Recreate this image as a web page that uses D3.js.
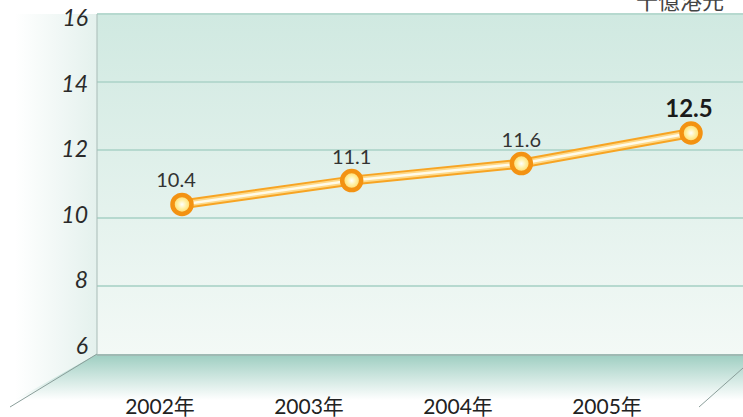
<!DOCTYPE html>
<html lang="zh-Hant">
<head>
  <meta charset="UTF-8">
  <script src="https://d3js.org/d3.v7.min.js"></script>
  <title>十億港元</title>
  <style>
    body { margin: 0; background: #fff; }
    svg { display: block; font-family: Lato, "Noto Sans CJK TC", sans-serif; }
  </style>
</head>
<body>
  <svg id="chart" width="743" height="417"></svg>
  <script>
    const years = ["2002年", "2003年", "2004年", "2005年"];
    const values = [10.4, 11.1, 11.6, 12.5];
    const yTicks = [6, 8, 10, 12, 14, 16];
    const unit = "十億港元";

    const width = 743, height = 417;
    const plotLeft = 97, plotTop = 14, plotBottom = 354;

    const svg = d3.select("#chart");
    const defs = svg.append("defs");

    const wallGrad = defs.append("linearGradient").attr("id", "wall")
      .attr("x1", 0).attr("y1", 0).attr("x2", 0).attr("y2", 1);
    wallGrad.append("stop").attr("offset", "0%").attr("stop-color", "#d0e9e1");
    wallGrad.append("stop").attr("offset", "100%").attr("stop-color", "#f3f9f6");

    const sideGrad = defs.append("linearGradient").attr("id", "side")
      .attr("x1", 0).attr("y1", 0).attr("x2", 1).attr("y2", 0);
    sideGrad.append("stop").attr("offset", "0%").attr("stop-color", "#ffffff");
    sideGrad.append("stop").attr("offset", "100%").attr("stop-color", "#e4f1ed");

    const floorGrad = defs.append("linearGradient").attr("id", "floor")
      .attr("x1", 0).attr("y1", 0).attr("x2", 0).attr("y2", 1);
    floorGrad.append("stop").attr("offset", "0%").attr("stop-color", "#9ccdc0");
    floorGrad.append("stop").attr("offset", "100%").attr("stop-color", "#ffffff");

    const dotGrad = defs.append("radialGradient").attr("id", "dot");
    dotGrad.append("stop").attr("offset", "0%").attr("stop-color", "#ffffff");
    dotGrad.append("stop").attr("offset", "45%").attr("stop-color", "#fff1a6");
    dotGrad.append("stop").attr("offset", "100%").attr("stop-color", "#ffd45c");

    const y = d3.scaleLinear().domain([6, 16]).range([plotBottom, plotTop]);
    // tick labels sit on a slightly compressed scale (perspective look)
    const yLab = d3.scaleLinear().domain([6, 16]).range([353.5, 26]);
    const x = d3.scalePoint().domain(years).range([182, 691]);
    const xLab = d3.scalePoint().domain(years).range([160, 607]);

    // side wall
    svg.append("path")
      .attr("d", `M15,${plotTop} L${plotLeft},${plotTop} L${plotLeft},${plotBottom} L15,405 Z`)
      .attr("fill", "url(#side)");

    // back wall
    svg.append("rect")
      .attr("x", plotLeft).attr("y", plotTop)
      .attr("width", width - plotLeft).attr("height", plotBottom - plotTop)
      .attr("fill", "url(#wall)");

    // floor
    svg.append("path")
      .attr("d", `M${plotLeft},${plotBottom} L${width},${plotBottom} L${width},400 L15,400 Z`)
      .attr("fill", "url(#floor)");
    svg.append("line")
      .attr("x1", plotLeft).attr("x2", width).attr("y1", plotBottom + 1).attr("y2", plotBottom + 1)
      .attr("stroke", "#9fb9b3").attr("stroke-width", 2);
    svg.append("line")
      .attr("x1", plotLeft).attr("y1", plotBottom).attr("x2", 10).attr("y2", 407)
      .attr("stroke", "#8a9e9a").attr("stroke-width", 1);
    svg.append("line")
      .attr("x1", width).attr("y1", 368).attr("x2", 699).attr("y2", 407)
      .attr("stroke", "#8a9e9a").attr("stroke-width", 1);

    // grid lines
    svg.append("g").selectAll("line")
      .data(yTicks.filter(d => d > 6))
      .join("line")
      .attr("x1", plotLeft).attr("x2", width)
      .attr("y1", d => y(d)).attr("y2", d => y(d))
      .attr("stroke", "#b6d9cf").attr("stroke-width", 2);

    svg.append("line")
      .attr("x1", plotLeft).attr("x2", plotLeft).attr("y1", plotTop).attr("y2", plotBottom)
      .attr("stroke", "#a9bbb7").attr("stroke-width", 1);

    // y axis labels
    svg.append("g").selectAll("text")
      .data(yTicks)
      .join("text")
      .attr("x", 88).attr("y", d => yLab(d))
      .attr("text-anchor", "end")
      .attr("font-size", 23).attr("font-style", "italic")
      .attr("fill", "#2a2a2a")
      .text(d => d);

    // x labels
    svg.append("g").selectAll("text")
      .data(years)
      .join("text")
      .attr("x", d => xLab(d)).attr("y", 414)
      .attr("text-anchor", "middle")
      .attr("font-size", 21).attr("fill", "#222")
      .text(d => d);

    // unit
    svg.append("text")
      .attr("x", 636).attr("y", 9)
      .attr("font-size", 22).attr("fill", "#444")
      .text(unit);

    // line
    const pts = years.map((d, i) => [x(d), y(values[i])]);
    const line = d3.line();
    svg.append("path").attr("d", line(pts)).attr("fill", "none")
      .attr("stroke", "#f7a423").attr("stroke-width", 10);
    svg.append("path").attr("d", line(pts)).attr("fill", "none")
      .attr("stroke", "#fdd98a").attr("stroke-width", 6);
    svg.append("path").attr("d", line(pts)).attr("fill", "none")
      .attr("stroke", "#fffbea").attr("stroke-width", 2.5);

    svg.append("g").selectAll("circle")
      .data(pts)
      .join("circle")
      .attr("cx", d => d[0]).attr("cy", d => d[1]).attr("r", 9.5)
      .attr("fill", "url(#dot)")
      .attr("stroke", "#f39212").attr("stroke-width", 4.5);

    // value labels
    const last = values.length - 1;
    svg.append("g").selectAll("text")
      .data(values)
      .join("text")
      .attr("x", (d, i) => x(years[i]) + (i === 0 ? -6 : i === last ? -2 : 0))
      .attr("y", (d, i) => y(d) - (i === last ? 16 : 17))
      .attr("text-anchor", "middle")
      .attr("font-size", (d, i) => i === last ? 24 : 20)
      .attr("font-weight", (d, i) => i === last ? "bold" : "normal")
      .attr("fill", (d, i) => i === last ? "#1a1a1a" : "#333")
      .text(d => d.toFixed(1));
  </script>
</body>
</html>
